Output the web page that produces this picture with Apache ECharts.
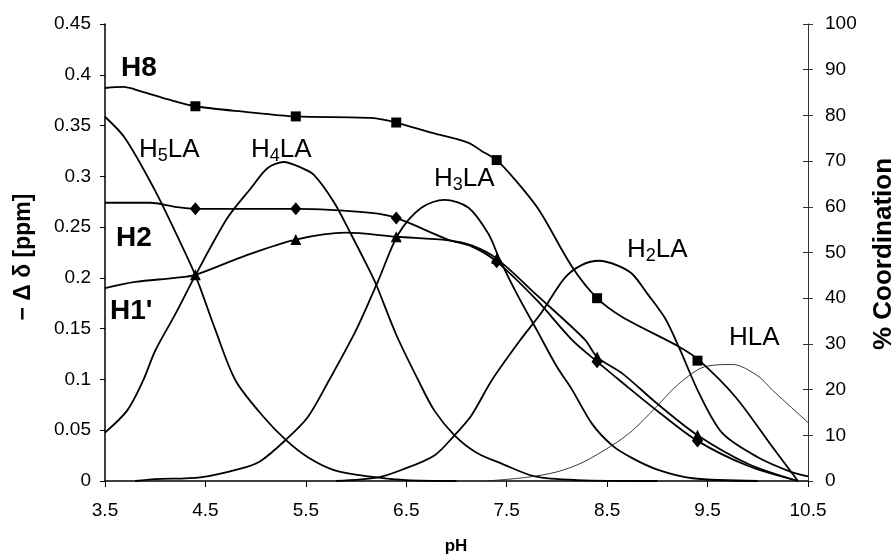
<!DOCTYPE html>
<html>
<head>
<meta charset="utf-8">
<script src="https://cdn.jsdelivr.net/npm/echarts@6/dist/echarts.min.js"></script>
<style>
html,body{margin:0;padding:0;background:#fff;}
#chart{width:895px;height:556px;}
</style>
</head>
<body>
<div id="chart"></div>
<script>
// ---------- data (pH, value) ----------
const PH0 = 3.5;
const xTickLabels = ['3.5','4.5','5.5','6.5','7.5','8.5','9.5','10.5'];

// chemical shift fits (left axis, ppm)
const h8Curve = [[3.5,0.387],[3.68,0.388],[3.85,0.384],[4.12,0.376],[4.4,0.369],[4.9,0.3635],[5.4,0.359],[6.15,0.3575],[6.4,0.353],[6.75,0.343],[7.12,0.333],[7.25,0.325],[7.4,0.316],[7.58,0.297],[7.82,0.267],[8.15,0.211],[8.4,0.18],[8.65,0.1615],[9.22,0.132],[9.42,0.1185],[9.78,0.0825],[10.12,0.037],[10.4,0]];
const h8Points = [[4.4,0.369],[5.4,0.359],[6.4,0.353],[7.4,0.316],[8.4,0.18],[9.4,0.1185]];

const h2Curve = [[3.5,0.274],[3.95,0.274],[4.2,0.270],[4.4,0.268],[5.4,0.268],[6.15,0.264],[6.4,0.259],[6.92,0.2375],[7.15,0.231],[7.4,0.216],[7.8,0.178],[8.15,0.139],[8.4,0.1175],[8.65,0.097],[9.0,0.069],[9.4,0.0395],[9.9,0.015],[10.4,0]];
const h2Points = [[4.4,0.268],[5.4,0.268],[6.4,0.259],[7.4,0.216],[8.4,0.1175],[9.4,0.0395]];

const h1Curve = [[3.5,0.19],[3.8,0.196],[4.2,0.2],[4.4,0.203],[4.9,0.222],[5.4,0.2377],[5.9,0.2445],[6.4,0.2405],[6.92,0.237],[7.15,0.232],[7.4,0.219],[7.8,0.183],[8.28,0.139],[8.4,0.122],[8.65,0.106],[9.0,0.076],[9.4,0.045],[9.9,0.017],[10.4,0]];
const h1Points = [[4.4,0.203],[5.4,0.2377],[6.4,0.2405],[7.4,0.219],[8.4,0.122],[9.4,0.045]];

// species distribution (right axis, % coordination)
const h5la = [[3.5,79.7],[3.7,75],[4.0,63.5],[4.2,54.5],[4.4,45],[4.6,33],[4.8,22],[5.08,14],[5.3,9],[5.52,5.2],[5.78,2.4],[6.12,1],[6.5,0.2],[7.0,0]];
const h4la = [[3.5,10.6],[3.72,15.4],[3.88,22],[4.0,28.5],[4.2,36.5],[4.4,45],[4.72,57.6],[4.95,64],[5.12,68.5],[5.28,69.8],[5.45,68.6],[5.58,67],[5.78,61],[5.95,54],[6.12,46.7],[6.2,43],[6.4,32],[6.62,22],[6.78,15.4],[6.98,10],[7.2,6.2],[7.45,3.8],[7.78,1],[8.2,0.2],[9.0,0]];
const h3la = [[3.8,0],[4.0,0.4],[4.45,0.8],[4.85,2.7],[5.05,4.4],[5.3,9],[5.52,14],[5.73,22],[6.0,33],[6.22,43.8],[6.42,54],[6.65,59.8],[6.88,61.5],[7.12,59.8],[7.32,54],[7.42,49],[7.6,41],[7.8,33],[8.0,25],[8.15,20],[8.35,12.5],[8.55,7.8],[8.75,5],[9.0,2.5],[9.35,0.6],[10.0,0]];
const h2la = [[5.8,0],[6.22,0.8],[6.45,2.4],[6.78,5.6],[6.98,10],[7.15,14.4],[7.35,22],[7.63,30.7],[7.85,37],[8.08,44.5],[8.25,47.3],[8.42,48.2],[8.6,47.2],[8.75,45.3],[8.9,41],[9.08,35.5],[9.22,29],[9.42,19],[9.65,10.4],[10.0,5.2],[10.33,2],[10.5,1]];
const hla  = [[7.3,0],[7.7,0.8],[8.0,2],[8.25,4],[8.55,7.8],[8.75,11],[8.98,16],[9.2,21],[9.47,25],[9.75,25.5],[10.0,23],[10.15,19.8],[10.5,12.8]];

// ---------- chart ----------
const shift = d => d.map(p => [+(p[0] - PH0).toFixed(3), p[1]]);
const curve = (name, data, yIdx, width, color) => ({
  name, type: 'line', yAxisIndex: yIdx, data: shift(data),
  smooth: 0.3, symbol: 'none', silent: true,
  lineStyle: { color: color || '#000', width: width || 1.8 }, z: 3
});
const marks = (name, data, symbol, size) => ({
  name, type: 'scatter', yAxisIndex: 0, data: shift(data),
  symbol, symbolSize: size, itemStyle: { color: '#000', opacity: 1 }, z: 6, silent: true
});

const chart = echarts.init(document.getElementById('chart'), null, { renderer: 'canvas' });
const FF = 'Liberation Sans, Arial, sans-serif';
const tickFont = { fontFamily: FF, fontSize: 19, color: '#000' };
const sub = (h, n, rest, x, y) => ({
  type: 'text', x, y, z: 10,
  style: {
    text: '{a|' + h + '}' + (n ? '{s|' + n + '}' : '') + '{a|' + rest + '}',
    rich: {
      a: { fontSize: 26, lineHeight: 30, fontFamily: FF, fill: '#000' },
      s: { fontSize: 18, lineHeight: 21, verticalAlign: 'bottom', fontFamily: FF, fill: '#000' }
    },
    align: 'left', verticalAlign: 'middle'
  }
});
const bold = (t, x, y, size, rot, align) => ({
  type: 'text', x, y, rotation: rot || 0, z: 10,
  style: { text: t, fontSize: size, fontWeight: 'bold', fontFamily: FF, fill: '#000', align: align || (rot ? 'center' : 'left'), verticalAlign: 'middle' }
});

chart.setOption({
  animation: false,
  backgroundColor: '#fff',
  grid: { left: 105, right: 87, top: 24, bottom: 75 },
  xAxis: {
    type: 'value', min: 0, max: 7, interval: 1,
    axisLine: { lineStyle: { color: '#000', width: 1.5 } },
    axisTick: { length: 6, lineStyle: { color: '#000', width: 1 } },
    axisLabel: Object.assign({ margin: 20, formatter: v => xTickLabels[Math.round(v)] }, tickFont),
    splitLine: { show: false }
  },
  yAxis: [
    {
      type: 'value', min: 0, max: 0.45, interval: 0.05, position: 'left',
      axisLine: { show: true, lineStyle: { color: '#000', width: 1.5 } },
      axisTick: { show: true, length: 5, lineStyle: { color: '#000' } },
      axisLabel: Object.assign({ margin: 14, formatter: v => String(+v.toFixed(2)) }, tickFont),
      splitLine: { show: false }
    },
    {
      type: 'value', min: 0, max: 100, interval: 10, position: 'right',
      axisLine: { show: true, lineStyle: { color: '#333', width: 1 } },
      axisTick: { show: true, length: 5, lineStyle: { color: '#333' } },
      axisLabel: Object.assign({ margin: 17 }, tickFont),
      splitLine: { show: false }
    },
    {
      type: 'value', min: 0, max: 100, interval: 10, position: 'right',
      axisLine: { show: false },
      axisTick: { show: true, inside: true, length: 5, lineStyle: { color: '#333' } },
      axisLabel: { show: false },
      splitLine: { show: false }
    }
  ],
  series: [
    curve('H5LA', h5la, 1),
    curve('H4LA', h4la, 1),
    curve('H3LA', h3la, 1),
    curve('H2LA', h2la, 1),
    curve('HLA', hla, 1, 0.9, '#222'),
    curve('H8', h8Curve, 0),
    curve('H2', h2Curve, 0),
    curve("H1'", h1Curve, 0),
    marks('H8 data', h8Points, 'rect', 10),
    marks('H2 data', h2Points, 'diamond', [11, 13]),
    marks("H1' data", h1Points, 'triangle', 11)
  ],
  graphic: [
    bold('H8', 121, 68, 28),
    bold('H2', 116, 238, 28),
    bold("H1'", 110, 311, 28),
    sub('H', '5', 'LA', 139, 150),
    sub('H', '4', 'LA', 251, 150),
    sub('H', '3', 'LA', 434, 179),
    sub('H', '2', 'LA', 627, 250),
    sub('H', '', 'LA', 729, 338),
    bold('\u2212 \u0394 \u03b4 [ppm]', 24, 257, 23, Math.PI / 2),
    bold('% Coordination', 884, 254, 26, Math.PI / 2),
    bold('pH', 456, 546, 17, 0, 'center')
  ]
});
</script>
</body>
</html>
